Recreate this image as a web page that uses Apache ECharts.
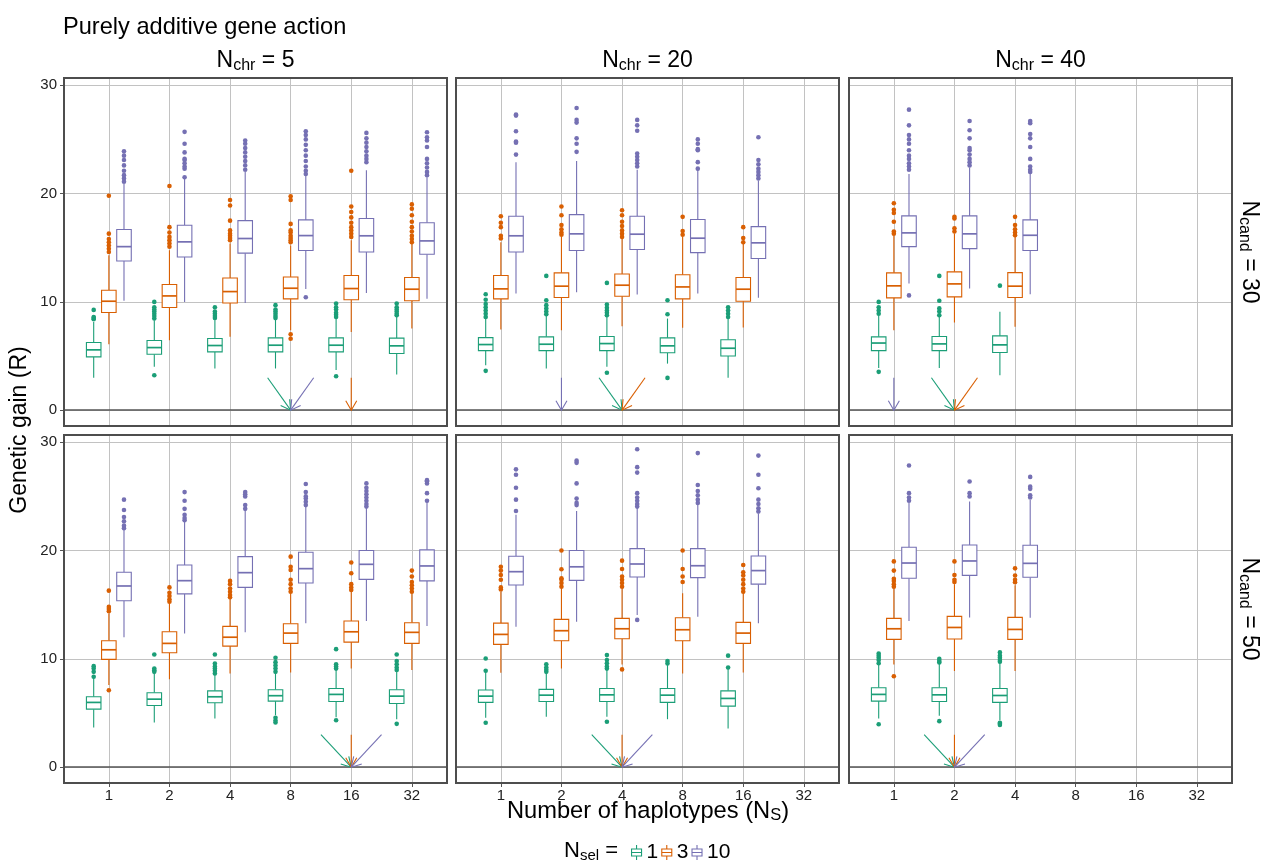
<!DOCTYPE html>
<html>
<head>
<meta charset="utf-8">
<title>Purely additive gene action</title>
<script src="https://cdn.jsdelivr.net/npm/echarts@6/dist/echarts.min.js"></script>
<style>
html, body { margin: 0; padding: 0; background: #fff; }
#chart { width: 1263px; height: 864px; }
</style>
</head>
<body>
<div id="chart"></div>
<script>
// N_S categories, N_sel groups, facets
var nsValues = [1, 2, 4, 8, 16, 32];
var nselGroups = ['1', '3', '10'];
var nchrValues = [5, 20, 40];
var ncandValues = [30, 50];
var yTicks = [0, 10, 20, 30];

// box stats per N_S: [lower whisker, Q1, median, Q3, upper whisker]
// outliers per N_S
// Nchr = 5, Ncand = 30
var box_c5_n30_s1 = [[3.0,4.92,5.57,6.25,8.15],[4.0,5.17,5.78,6.43,8.3],[3.85,5.38,5.97,6.62,8.3],[3.85,5.38,6.0,6.68,8.37],[3.7,5.38,6.0,6.68,8.46],[3.3,5.23,5.94,6.65,8.6]];
var out_c5_n30_s1 = [[8.4,8.5,8.6,9.26],[3.23,8.46,8.7,8.9,9.1,9.3,9.5,10.0],[8.5,8.7,8.9,9.1,9.5],[8.5,8.7,8.9,9.1,9.3,9.7],[3.14,8.6,8.8,9.0,9.3,9.5,9.85],[8.77,8.9,9.1,9.3,9.5,9.85]];
var box_c5_n30_s3 = [[6.09,9.02,10.06,11.08,14.3],[6.46,9.48,10.55,11.6,14.77],[6.77,9.9,10.95,12.2,15.4],[7.38,10.28,11.26,12.3,15.2],[7.23,10.2,11.23,12.43,15.7],[7.54,10.1,11.17,12.25,15.4]];
var out_c5_n30_s3 = [[14.6,14.9,15.2,15.5,15.8,16.3,19.8],[15.1,15.4,15.7,16.0,16.4,16.9,20.7],[15.7,15.9,16.1,16.3,16.6,17.5,18.9,19.4],[6.6,7.0,15.5,15.7,15.9,16.1,16.4,16.6,17.2,19.4,19.75],[16.0,16.3,16.6,16.9,17.3,17.8,18.3,18.8,22.1],[15.5,15.8,16.1,16.5,16.9,17.4,18.0,18.6,19.0]];
var box_c5_n30_s10 = [[10.1,13.78,15.1,16.68,20.9],[10.0,14.15,15.54,17.08,21.4],[9.9,14.5,15.85,17.5,22.0],[11.2,14.74,16.12,17.57,21.7],[10.83,14.6,16.1,17.7,22.15],[10.28,14.4,15.63,17.3,21.5]];
var out_c5_n30_s10 = [[21.1,21.4,21.7,22.1,22.6,23.1,23.5,23.9],[21.5,22.3,22.5,22.8,23.1,23.2,23.8,24.6,25.7],[22.2,22.6,23.0,23.4,23.8,24.2,24.6,24.9],[10.43,21.8,22.1,22.5,23.0,23.5,24.0,24.5,25.0,25.4,25.75],[22.9,23.2,23.5,23.9,24.3,24.7,25.1,25.6],[21.7,22.0,22.4,22.8,23.2,24.3,24.9,25.2,25.66]];

// Nchr = 20, Ncand = 30
var box_c20_n30_s1 = [[4.15,5.5,6.06,6.7,8.46],[3.85,5.5,6.09,6.77,8.77],[4.0,5.5,6.15,6.8,8.6],[4.3,5.3,5.94,6.68,8.46],[3.0,5.0,5.72,6.5,8.46]];
var out_c20_n30_s1 = [[3.63,8.6,8.9,9.2,9.5,9.8,10.2,10.7],[8.86,9.1,9.4,9.7,10.15,12.4],[3.45,8.77,9.0,9.2,9.45,9.75,11.75],[2.98,8.86,10.15],[8.6,8.9,9.2,9.5]];
var box_c20_n30_s3 = [[7.45,10.28,11.2,12.43,15.5],[7.38,10.4,11.45,12.68,16.0],[7.75,10.52,11.54,12.58,15.85],[7.6,10.28,11.38,12.5,16.0],[7.63,10.06,11.17,12.25,15.4]];
var out_c20_n30_s3 = [[15.85,16.1,16.9,17.3,17.9],[16.2,16.4,16.7,17.1,18.0,18.8],[16.0,16.3,16.6,17.0,17.4,18.0,18.46],[16.2,16.55,17.85],[15.5,15.9,16.9]];
var box_c20_n30_s10 = [[10.77,14.6,16.1,17.9,22.9],[10.9,14.74,16.28,18.06,23.0],[10.68,14.83,16.25,17.9,22.2],[10.77,14.55,15.88,17.6,22.2],[10.37,14.0,15.45,16.95,21.2]];
var out_c20_n30_s10 = [[23.6,24.7,24.8,25.75,27.2,27.3],[23.85,24.6,25.1,26.55,26.8,27.9],[22.5,22.8,23.1,23.4,23.7,25.8,26.3,26.8],[22.3,22.9,24.0,24.1,24.6,25.0],[21.4,21.7,22.0,22.3,22.7,23.1,25.2]];

// Nchr = 40, Ncand = 30
var box_c40_n30_s1 = [[3.9,5.5,6.2,6.77,8.77],[3.9,5.5,6.12,6.8,8.6],[3.23,5.32,6.03,6.86,9.08]];
var out_c40_n30_s1 = [[3.54,8.9,9.2,9.5,10.0],[8.77,9.1,9.4,10.1,12.4],[11.5]];
var box_c40_n30_s3 = [[7.38,10.37,11.48,12.68,16.1],[8.1,10.46,11.66,12.77,16.3],[7.7,10.4,11.45,12.7,16.0]];
var out_c40_n30_s3 = [[16.3,16.5,17.4,18.2,18.5,19.1],[16.5,16.8,17.7,17.85],[16.15,16.4,16.7,17.1,17.85]];
var box_c40_n30_s10 = [[11.7,15.1,16.37,17.94,21.8],[11.23,14.92,16.28,17.94,22.4],[10.7,14.74,16.15,17.57,21.9]];
var out_c40_n30_s10 = [[10.6,22.2,22.5,22.8,23.2,23.5,24.0,24.6,25.0,25.4,26.3,27.75],[22.6,22.9,23.2,23.6,24.0,24.2,25.1,25.85,26.7],[22.0,22.2,22.5,23.2,24.3,25.1,25.5,26.5,26.7]];

// Nchr = 5, Ncand = 50
var box_c5_n50_s1 = [[3.67,5.36,5.98,6.5,8.29],[4.13,5.7,6.28,6.87,8.66],[4.5,5.95,6.5,7.05,8.5],[4.8,6.1,6.6,7.15,8.66],[4.6,6.07,6.72,7.27,8.97],[4.43,5.88,6.56,7.15,8.87]];
var out_c5_n50_s1 = [[8.35,8.8,9.1,9.33],[8.8,8.95,9.1,10.4],[8.66,8.9,9.1,9.3,9.58,10.4],[4.13,4.3,4.56,8.8,9.1,9.4,9.7,10.1],[4.34,9.1,9.3,9.5,10.9],[4.0,8.97,9.2,9.5,9.8,10.4]];
var box_c5_n50_s3 = [[7.58,9.95,10.84,11.68,14.2],[8.13,10.57,11.43,12.5,15.2],[8.66,11.18,12.0,13.0,15.5],[8.75,11.43,12.38,13.25,16.05],[9.12,11.55,12.5,13.5,16.2],[8.97,11.43,12.45,13.34,16.05]];
var out_c5_n50_s3 = [[7.1,14.4,14.6,14.8,16.3],[15.28,15.5,15.8,16.1,16.6],[15.68,15.9,16.2,16.5,16.9,17.2],[16.2,16.5,16.9,17.3,18.2,18.5,19.44],[16.36,16.6,16.9,17.9,18.9],[16.2,16.5,16.8,17.1,17.6,18.15]];
var box_c5_n50_s10 = [[12.0,15.37,16.73,18.0,21.9],[12.35,16.0,17.22,18.67,22.67],[12.45,16.6,17.96,19.44,23.7],[13.28,17.0,18.33,19.84,24.06],[13.5,17.34,18.73,20.0,23.9],[13.03,17.2,18.58,20.06,24.5]];
var out_c5_n50_s10 = [[22.06,22.3,22.7,23.1,23.75,24.7],[22.8,23.0,23.3,23.85,24.6,25.4],[23.85,24.2,25.0,25.2,25.4],[24.2,24.5,24.8,25.0,25.4,26.15],[24.06,24.3,24.6,24.9,25.2,25.5,25.8,26.2],[24.6,25.3,26.2,26.4,26.5]];

// Nchr = 20, Ncand = 50
var box_c20_n50_s1 = [[4.56,5.98,6.56,7.12,8.8],[4.65,6.07,6.65,7.18,8.66],[4.65,6.07,6.68,7.27,8.97],[4.43,5.98,6.65,7.27,9.43],[3.57,5.64,6.35,7.05,9.12]];
var out_c20_n50_s1 = [[4.1,8.9,10.04],[8.8,9.0,9.2,9.5],[4.19,9.1,9.3,9.6,9.9,10.35],[9.58,9.8],[9.2,10.3]];
var box_c20_n50_s3 = [[8.72,11.34,12.26,13.3,16.2],[9.12,11.68,12.6,13.65,16.5],[9.49,11.86,12.78,13.74,16.5],[8.66,11.68,12.69,13.8,16.05],[8.75,11.43,12.38,13.37,16.2]];
var out_c20_n50_s3 = [[16.4,16.6,17.3,17.75,18.15,18.5],[16.67,17.0,17.3,17.44,18.27,20.0],[9.03,16.67,17.0,17.3,17.6,18.3,19.07],[17.1,17.6,18.3,20.0],[16.2,16.5,16.9,17.3,17.7,18.0,18.67]];
var box_c20_n50_s10 = [[12.97,16.82,18.05,19.47,23.3],[13.43,17.25,18.5,20.0,23.66],[14.05,17.56,18.76,20.18,24.0],[13.9,17.5,18.6,20.18,24.2],[13.28,16.9,18.15,19.5,23.38]];
var out_c20_n50_s10 = [[23.66,24.7,25.8,27.0,27.5],[24.2,24.4,24.8,26.2,28.1,28.3],[13.6,24.06,24.3,24.6,24.9,25.3,27.2,27.7,29.36],[24.4,24.7,25.1,25.5,26.05,29.0],[23.6,23.9,24.3,24.7,25.75,27.0,28.77]];

// Nchr = 40, Ncand = 50
var box_c40_n50_s1 = [[4.5,6.1,6.72,7.33,9.43],[4.74,6.07,6.68,7.33,9.58],[4.34,5.98,6.62,7.27,9.67]];
var out_c40_n50_s1 = [[3.97,9.6,9.9,10.1,10.3,10.5],[4.25,9.67,9.8,10.0],[3.9,4.0,4.1,9.73,9.9,10.1,10.3,10.6]];
var box_c40_n50_s3 = [[9.49,11.8,12.78,13.74,16.5],[8.87,11.83,12.9,13.92,16.88],[8.87,11.8,12.72,13.83,16.8]];
var out_c40_n50_s3 = [[8.4,16.67,16.9,17.2,17.4,18.15,19.0],[17.1,17.3,17.75,19.0],[17.07,17.3,17.7,18.36]];
var box_c40_n50_s10 = [[13.5,17.44,18.85,20.3,24.43],[13.83,17.71,19.04,20.52,24.52],[13.8,17.53,18.82,20.49,24.68]];
var out_c40_n50_s10 = [[24.6,24.9,25.3,27.85],[25.0,25.3,26.37],[24.9,25.1,25.7,25.9,26.8]];

// best N_S for N_sel = 1, 3, 10 (arrows)
var best_c5_n30 = [8, 16, 8];
var best_c20_n30 = [4, 4, 2];
var best_c40_n30 = [2, 2, 1];
var best_c5_n50 = [16, 16, 16];
var best_c20_n50 = [4, 4, 4];
var best_c40_n50 = [2, 2, 2];

var panels = [
  { box: [box_c5_n30_s1, box_c5_n30_s3, box_c5_n30_s10], out: [out_c5_n30_s1, out_c5_n30_s3, out_c5_n30_s10], best: best_c5_n30 },
  { box: [box_c20_n30_s1, box_c20_n30_s3, box_c20_n30_s10], out: [out_c20_n30_s1, out_c20_n30_s3, out_c20_n30_s10], best: best_c20_n30 },
  { box: [box_c40_n30_s1, box_c40_n30_s3, box_c40_n30_s10], out: [out_c40_n30_s1, out_c40_n30_s3, out_c40_n30_s10], best: best_c40_n30 },
  { box: [box_c5_n50_s1, box_c5_n50_s3, box_c5_n50_s10], out: [out_c5_n50_s1, out_c5_n50_s3, out_c5_n50_s10], best: best_c5_n50 },
  { box: [box_c20_n50_s1, box_c20_n50_s3, box_c20_n50_s10], out: [out_c20_n50_s1, out_c20_n50_s3, out_c20_n50_s10], best: best_c20_n50 },
  { box: [box_c40_n50_s1, box_c40_n50_s3, box_c40_n50_s10], out: [out_c40_n50_s1, out_c40_n50_s3, out_c40_n50_s10], best: best_c40_n50 }
];

var colors = ['#1B9E77', '#D95F02', '#7570B3'];
var FONT = '"Liberation Sans", Arial, Helvetica, sans-serif';
var colLeft = [64, 456, 849];
var rowTop = [78, 435];
var panelW = 383, panelH = 348;
var X_MIN = -0.74, X_MAX = 5.58;
var Y_MIN = -1.46, Y_MAX = 30.67;
var dodge = [-0.25, 0, 0.25];
var BOX_W = 0.24;
var nsIdx = [0, 1, 2, 3, 4, 5];

function log2(v) { return Math.round(Math.log(v) / Math.LN2); }

function renderBox(params, api) {
  var x = api.value(0);
  var lo = api.coord([x, api.value(1)]);
  var q1 = api.coord([x, api.value(2)]);
  var md = api.coord([x, api.value(3)]);
  var q3 = api.coord([x, api.value(4)]);
  var hi = api.coord([x, api.value(5)]);
  var w = api.size([BOX_W, 0])[0];
  var c = api.visual('color');
  var lw = 1.1;
  return {
    type: 'group',
    children: [
      { type: 'line', shape: { x1: lo[0], y1: lo[1], x2: q1[0], y2: q1[1] }, style: { stroke: c, lineWidth: lw } },
      { type: 'line', shape: { x1: q3[0], y1: q3[1], x2: hi[0], y2: hi[1] }, style: { stroke: c, lineWidth: lw } },
      { type: 'rect', shape: { x: q3[0] - w / 2, y: q3[1], width: w, height: q1[1] - q3[1] }, style: { fill: '#fff', stroke: c, lineWidth: lw } },
      { type: 'line', shape: { x1: md[0] - w / 2, y1: md[1], x2: md[0] + w / 2, y2: md[1] }, style: { stroke: c, lineWidth: 1.7 } }
    ]
  };
}

function renderArrow(params, api) {
  var p0 = api.coord([api.value(0), api.value(1)]);
  var p1 = api.coord([api.value(2), api.value(3)]);
  var c = colors[api.value(4)];
  var dx = p1[0] - p0[0], dy = p1[1] - p0[1];
  var len = Math.sqrt(dx * dx + dy * dy);
  var ux = dx / len, uy = dy / len;
  var a = Math.PI / 6, L = 11;
  var ca = Math.cos(a), sa = Math.sin(a);
  var h1 = [p1[0] + L * (-ux * ca + uy * sa), p1[1] + L * (-ux * sa - uy * ca)];
  var h2 = [p1[0] + L * (-ux * ca - uy * sa), p1[1] + L * (ux * sa - uy * ca)];
  return {
    type: 'group',
    children: [
      { type: 'line', shape: { x1: p0[0], y1: p0[1], x2: p1[0], y2: p1[1] }, style: { stroke: c, lineWidth: 1.1 } },
      { type: 'polyline', shape: { points: [h1, p1, h2] }, style: { stroke: c, fill: null, lineWidth: 1.1 } }
    ]
  };
}

var grids = [], xAxes = [], yAxes = [], series = [], borders = [];

panels.forEach(function (pn, p) {
  var row = Math.floor(p / 3), col = p % 3;
  grids.push({
    left: colLeft[col], top: rowTop[row], width: panelW, height: panelH,
    show: true, borderWidth: 0, backgroundColor: '#fff'
  });
  // panel frame drawn above the grid lines
  borders.push({
    type: 'rect', z: 100, silent: true,
    shape: { x: colLeft[col], y: rowTop[row], width: panelW, height: panelH },
    style: { fill: null, stroke: '#4d4d4d', lineWidth: 2 }
  });
  xAxes.push({
    type: 'value', gridIndex: p, min: X_MIN, max: X_MAX, minInterval: 1, maxInterval: 1,
    axisLine: { show: false, onZero: false },
    axisTick: { show: row === 1, length: 4, lineStyle: { color: '#555' }, customValues: nsIdx },
    axisLabel: {
      show: row === 1, customValues: nsIdx, margin: 5, fontSize: 15, color: '#222', fontFamily: FONT,
      formatter: function (v) { return Math.abs(v - Math.round(v)) < 1e-6 ? String(nsValues[Math.round(v)]) : ''; }
    },
    splitLine: { show: true, lineStyle: { color: '#c2c2c2', width: 1 } }
  });
  yAxes.push({
    type: 'value', gridIndex: p, min: Y_MIN, max: Y_MAX, minInterval: 10, maxInterval: 10,
    axisLine: { show: false, onZero: false },
    axisTick: { show: col === 0, length: 4, lineStyle: { color: '#555' }, customValues: yTicks },
    axisLabel: {
      show: col === 0, customValues: yTicks, margin: 7, fontSize: 15, color: '#222', fontFamily: FONT,
      formatter: function (v) { return Math.abs(v % 10) < 1e-6 ? String(Math.round(v)) : ''; }
    },
    splitLine: { show: true, lineStyle: { color: '#c2c2c2', width: 1 } }
  });

  for (var g = 0; g < 3; g++) {
    var boxData = pn.box[g].map(function (b, i) { return [i + dodge[g]].concat(b); });
    var outData = [];
    pn.out[g].forEach(function (vals, i) {
      vals.forEach(function (v) { outData.push([i + dodge[g], v]); });
    });
    series.push({
      name: nselGroups[g], type: 'custom', xAxisIndex: p, yAxisIndex: p,
      renderItem: renderBox, itemStyle: { color: colors[g] },
      encode: { x: 0, y: [1, 2, 3, 4, 5] }, data: boxData, z: 3, silent: true
    });
    series.push({
      name: nselGroups[g], type: 'scatter', xAxisIndex: p, yAxisIndex: p,
      symbolSize: 4.6, itemStyle: { color: colors[g], opacity: 1 }, data: outData, z: 4, silent: true
    });
  }

  // arrows pointing at the best N_S; arrows sharing a target fan out
  var arrowData = [];
  pn.best.forEach(function (ns, g) {
    var same = [];
    pn.best.forEach(function (o, k) { if (o === ns) same.push(k); });
    var pos = same.indexOf(g), n = same.length;
    var spread = n === 1 ? [0] : (n === 2 ? [-0.38, 0.38] : [-0.5, 0, 0.5]);
    var t = log2(ns);
    arrowData.push([t + spread[pos], 3, t, 0, g]);
  });
  series.push({
    name: 'best', type: 'custom', xAxisIndex: p, yAxisIndex: p,
    renderItem: renderArrow, encode: { x: [0, 2], y: [1, 3] }, data: arrowData, z: 5, silent: true,
    markLine: {
      silent: true, symbol: 'none', label: { show: false },
      lineStyle: { color: '#555', width: 1.6, type: 'solid' },
      data: [{ yAxis: 0 }]
    }
  });
});

var glyph = 'path://M0,4 L10,4 L10,11 L0,11 Z M0,7.5 L10,7.5 M5,0 L5,4 M5,11 L5,15';

var richBig = {
  n: { fontSize: 23, fontFamily: FONT, fill: '#000', lineHeight: 26 },
  s: { fontSize: 16, fontFamily: FONT, fill: '#000', lineHeight: 10, verticalAlign: 'bottom' }
};
var richAxis = {
  n: { fontSize: 23.7, fontFamily: FONT, fill: '#000', lineHeight: 26 },
  s: { fontSize: 16.5, fontFamily: FONT, fill: '#000', lineHeight: 10, verticalAlign: 'bottom' }
};
var richLegend = {
  n: { fontSize: 22, fontFamily: FONT, fill: '#000', lineHeight: 25 },
  s: { fontSize: 15, fontFamily: FONT, fill: '#000', lineHeight: 10, verticalAlign: 'bottom' }
};

var graphics = [
  { type: 'text', x: 63, y: 27, style: { text: 'Purely additive gene action', fontSize: 23.6, fontFamily: FONT, fill: '#000', align: 'left', verticalAlign: 'middle' } },
  { type: 'text', x: 20, y: 430, rotation: Math.PI / 2, style: { text: 'Genetic gain (R)', fontSize: 23, fontFamily: FONT, fill: '#000', align: 'center', verticalAlign: 'middle' } },
  { type: 'text', x: 648, y: 811, style: { text: '{n|Number of haplotypes (N}{s|S}{n|)}', rich: richAxis, fill: '#000', align: 'center', verticalAlign: 'middle' } },
  { type: 'text', x: 564, y: 851, style: { text: '{n|N}{s|sel}{n| =}', rich: richLegend, fill: '#000', align: 'left', verticalAlign: 'middle' } }
];
nchrValues.forEach(function (v, c) {
  graphics.push({ type: 'text', x: colLeft[c] + panelW / 2, y: 61,
    style: { text: '{n|N}{s|chr}{n| = ' + v + '}', rich: richBig, fill: '#000', align: 'center', verticalAlign: 'middle' } });
});
ncandValues.forEach(function (v, r) {
  graphics.push({ type: 'text', x: 1249, y: rowTop[r] + panelH / 2, rotation: -Math.PI / 2,
    style: { text: '{n|N}{s|cand}{n| = ' + v + '}', rich: richBig, fill: '#000', align: 'center', verticalAlign: 'middle' } });
});
graphics = graphics.concat(borders);

var chart = echarts.init(document.getElementById('chart'), null, { renderer: 'canvas' });
chart.setOption({
  animation: false,
  backgroundColor: '#fff',
  grid: grids,
  xAxis: xAxes,
  yAxis: yAxes,
  legend: {
    left: 631, top: 842, padding: 0, itemGap: 3, itemWidth: 10, itemHeight: 15,
    selectedMode: false,
    textStyle: { fontSize: 21, fontFamily: FONT, color: '#000' },
    data: nselGroups.map(function (name, g) {
      return { name: name, icon: glyph, itemStyle: { color: '#fff', borderColor: colors[g], borderWidth: 1.1 } };
    })
  },
  graphic: graphics,
  series: series
});
</script>
</body>
</html>
